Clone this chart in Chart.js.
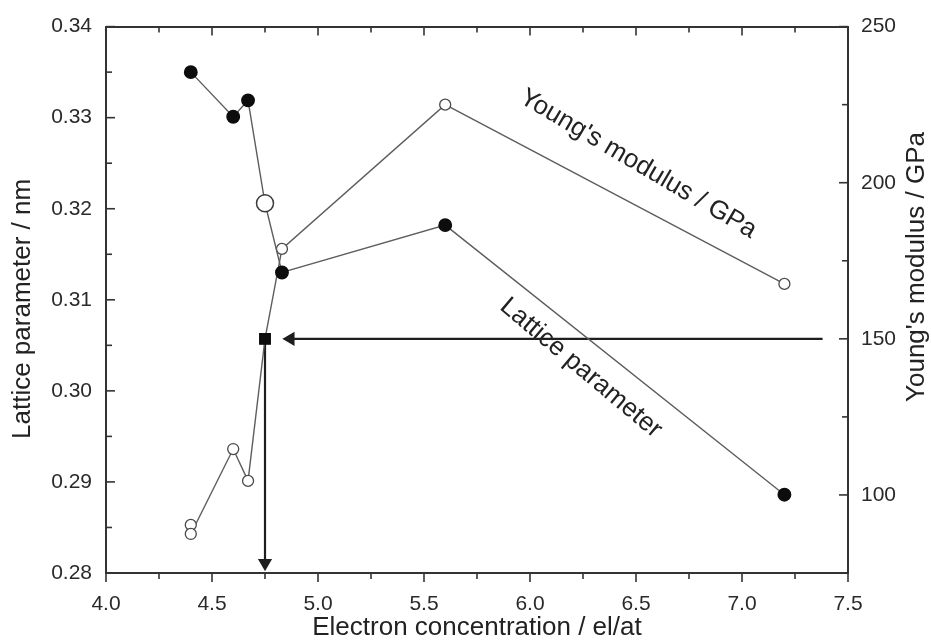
<!DOCTYPE html>
<html>
<head>
<meta charset="utf-8">
<script src="https://cdn.jsdelivr.net/npm/chart.js@4.4.0/dist/chart.umd.min.js"></script>
<style>
  html, body { margin: 0; padding: 0; background: #fff; }
</style>
</head>
<body>
<canvas id="myChart" width="931" height="643"></canvas>
<script>
// Lattice parameter (nm) vs electron concentration (el/at)
var eLattice = [4.4, 4.6, 4.67, 4.75, 4.83, 5.6, 7.2]
var latticeParam = [0.3350, 0.3301, 0.3319, 0.3206, 0.3130, 0.3182, 0.2886]

// Young's modulus (GPa) vs electron concentration
var eYoung = [4.4, 4.4, 4.6, 4.67, 4.75, 4.83, 5.6, 7.2]
var youngsModulus = [90.4, 87.5, 114.7, 104.5, 150, 178.8, 225, 167.6]

// read-off guide: 150 GPa -> 4.75 el/at
var guideE = 4.75
var hArrowE = [7.38, 4.87]
var hArrowGPa = [150, 150]
var vArrowE = [4.75, 4.75]
var vArrowGPa = [150, 78.2]

// axis ranges
var xRange = [4.0, 7.5]
var latticeRange = [0.28, 0.34]
var youngRange = [75, 250]

function pts(xs, ys) {
    return xs.map(function (x, i) { return { x: x, y: ys[i] } })
}

function near(v, step) {
    var q = v / step
    return Math.abs(q - Math.round(q)) < 1e-6
}

var FONT = '"Liberation Sans", Arial, sans-serif'
Chart.defaults.font.family = FONT
Chart.defaults.color = '#222'

// ticks drawn by hand: inward on left/right/top, outward on bottom
var frameTicks = {
    id: 'frameTicks',
    afterDraw: function (chart) {
        var ctx = chart.ctx
        var a = chart.chartArea
        ctx.save()
        ctx.strokeStyle = '#333'
        ctx.lineWidth = 1.6
        var defs = [
            { id: 'x', step: 0.5, side: 'bottom' },
            { id: 'x2', step: 0.5, side: 'top' },
            { id: 'y', step: 0.01, side: 'left' },
            { id: 'y1', step: 50, side: 'right' }
        ]
        defs.forEach(function (d) {
            var s = chart.scales[d.id]
            s.ticks.forEach(function (t) {
                var p = s.getPixelForValue(t.value)
                var len = near(t.value, d.step) ? 9 : 6
                ctx.beginPath()
                if (d.side == 'bottom') { ctx.moveTo(p, a.bottom); ctx.lineTo(p, a.bottom + len) }
                if (d.side == 'top') { ctx.moveTo(p, a.top); ctx.lineTo(p, a.top + len) }
                if (d.side == 'left') { ctx.moveTo(a.left, p); ctx.lineTo(a.left + len, p) }
                if (d.side == 'right') { ctx.moveTo(a.right, p); ctx.lineTo(a.right - len, p) }
                ctx.stroke()
            })
        })
        ctx.restore()
    }
}

// rotated curve names (data coordinates) and the two y-axis titles
var curveLabels = {
    id: 'curveLabels',
    afterDatasetsDraw: function (chart) {
        var ctx = chart.ctx
        var labels = [
            { text: "Young's modulus / GPa", x: 6.51, y: 206, axis: 'y1', angle: 30.5 },
            { text: 'Lattice parameter', x: 6.24, y: 0.3025, axis: 'y', angle: 40 }
        ]
        ctx.save()
        ctx.fillStyle = '#222'
        ctx.font = '26px ' + FONT
        ctx.textAlign = 'center'
        ctx.textBaseline = 'middle'
        labels.forEach(function (l) {
            var px = chart.scales.x.getPixelForValue(l.x)
            var py = chart.scales[l.axis].getPixelForValue(l.y)
            ctx.save()
            ctx.translate(px, py)
            ctx.rotate(l.angle * Math.PI / 180)
            ctx.fillText(l.text, 0, 0)
            ctx.restore()
        })

        // axis titles, both reading bottom to top
        var titles = [
            { text: 'Lattice parameter / nm', x: chart.scales.y.left + 23, y: chart.scales.y.getPixelForValue(0.309) },
            { text: "Young's modulus / GPa", x: chart.scales.y1.right - 14, y: chart.scales.y1.getPixelForValue(173) }
        ]
        titles.forEach(function (t) {
            ctx.save()
            ctx.translate(t.x, t.y)
            ctx.rotate(-Math.PI / 2)
            ctx.fillText(t.text, 0, 0)
            ctx.restore()
        })
        ctx.restore()
    }
}

var chart = new Chart(document.getElementById('myChart'), {
    type: 'scatter',
    data: {
        datasets: [
            {
                label: 'Lattice parameter',
                data: pts(eLattice, latticeParam),
                yAxisID: 'y',
                showLine: true,
                borderColor: '#5e5e5e',
                borderWidth: 1.4,
                pointStyle: 'circle',
                pointRadius: function (c) { return eLattice[c.dataIndex] === guideE ? 8.5 : 6.2 },
                pointBackgroundColor: function (c) { return eLattice[c.dataIndex] === guideE ? '#fff' : '#0d0d0d' },
                pointBorderColor: function (c) { return eLattice[c.dataIndex] === guideE ? '#3a3a3a' : '#0d0d0d' },
                pointBorderWidth: 1.5
            },
            {
                label: "Young's modulus",
                data: pts(eYoung, youngsModulus),
                yAxisID: 'y1',
                showLine: true,
                borderColor: '#5e5e5e',
                borderWidth: 1.4,
                pointStyle: function (c) { return eYoung[c.dataIndex] === guideE ? 'rect' : 'circle' },
                pointRadius: function (c) { return eYoung[c.dataIndex] === guideE ? 7.5 : 5.5 },
                pointBackgroundColor: function (c) { return eYoung[c.dataIndex] === guideE ? '#0d0d0d' : '#fff' },
                pointBorderColor: function (c) { return eYoung[c.dataIndex] === guideE ? '#0d0d0d' : '#4a4a4a' },
                pointBorderWidth: 1.3
            },
            {
                label: 'guide h',
                data: pts(hArrowE, hArrowGPa),
                yAxisID: 'y1',
                showLine: true,
                borderColor: '#1e1e1e',
                borderWidth: 2.2,
                pointStyle: 'triangle',
                rotation: -90,
                pointRadius: [0, 6],
                pointBackgroundColor: '#1e1e1e',
                pointBorderColor: '#1e1e1e'
            },
            {
                label: 'guide v',
                data: pts(vArrowE, vArrowGPa),
                yAxisID: 'y1',
                showLine: true,
                borderColor: '#1e1e1e',
                borderWidth: 2.2,
                pointStyle: 'triangle',
                rotation: 180,
                pointRadius: [0, 6],
                pointBackgroundColor: '#1e1e1e',
                pointBorderColor: '#1e1e1e'
            }
        ]
    },
    options: {
        responsive: false,
        animation: false,
        devicePixelRatio: 1,
        layout: { padding: 0 },
        plugins: {
            legend: { display: false },
            tooltip: { enabled: false }
        },
        scales: {
            x: {
                type: 'linear',
                position: 'bottom',
                min: xRange[0],
                max: xRange[1],
                afterFit: function (s) { s.height = 70 },
                border: { color: '#333', width: 2 },
                grid: { drawOnChartArea: false, drawTicks: false },
                ticks: {
                    stepSize: 0.25,
                    autoSkip: false,
                    maxRotation: 0,
                    padding: 19,
                    font: { size: 21 },
                    color: '#2a2a2a',
                    callback: function (v) { return near(v, 0.5) ? v.toFixed(1) : '' }
                },
                title: {
                    display: true,
                    text: 'Electron concentration / el/at',
                    font: { size: 26 },
                    color: '#222',
                    padding: { top: 0, bottom: 0 }
                }
            },
            x2: {
                type: 'linear',
                position: 'top',
                min: xRange[0],
                max: xRange[1],
                afterFit: function (s) { s.height = 25 },
                border: { color: '#333', width: 2 },
                grid: { drawOnChartArea: false, drawTicks: false },
                ticks: { stepSize: 0.25, autoSkip: false, display: false }
            },
            y: {
                type: 'linear',
                position: 'left',
                min: latticeRange[0],
                max: latticeRange[1],
                afterFit: function (s) { s.width = 106 },
                border: { color: '#333', width: 2 },
                grid: { drawOnChartArea: false, drawTicks: false },
                ticks: {
                    stepSize: 0.005,
                    autoSkip: false,
                    padding: 14,
                    font: { size: 21 },
                    color: '#2a2a2a',
                    callback: function (v) { return near(v, 0.01) ? v.toFixed(2) : '' }
                }
            },
            y1: {
                type: 'linear',
                position: 'right',
                min: youngRange[0],
                max: youngRange[1],
                afterFit: function (s) { s.width = 83 },
                border: { color: '#333', width: 2 },
                grid: { drawOnChartArea: false, drawTicks: false },
                ticks: {
                    stepSize: 25,
                    autoSkip: false,
                    padding: 13,
                    font: { size: 21 },
                    color: '#2a2a2a',
                    callback: function (v) { return v >= 100 && near(v, 50) ? String(v) : '' }
                }
            }
        }
    },
    plugins: [frameTicks, curveLabels]
});
</script>
</body>
</html>
